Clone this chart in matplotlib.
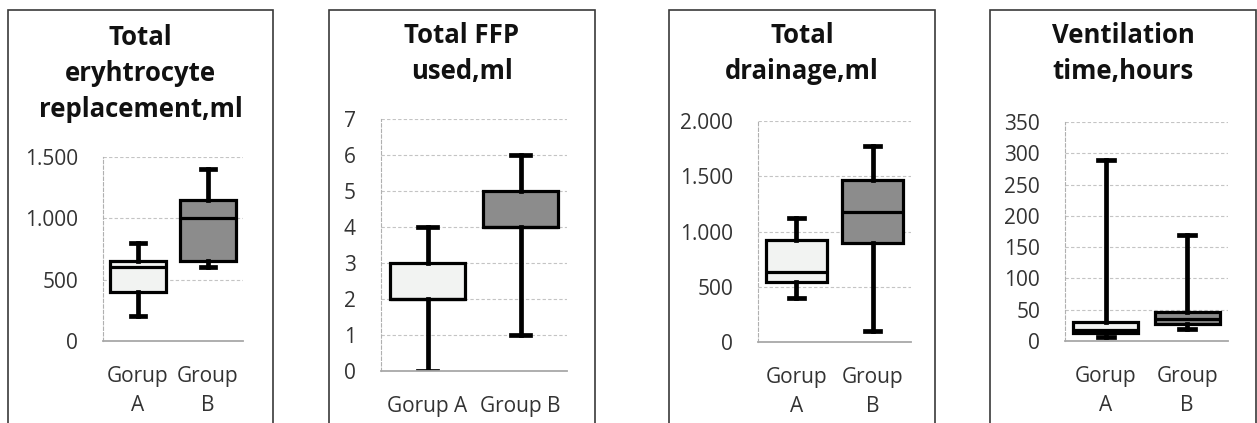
import numpy as np
import matplotlib.pyplot as plt
from matplotlib.patches import Rectangle

plt.rcParams['font.family'] = ['Open Sans', 'DejaVu Sans']

W, H = 1257, 423

# ---- data ----
groups_split = ['Gorup\nA', 'Group\nB']
groups_flat = ['Gorup A', 'Group B']

ery_low = [200, 600]
ery_q1 = [400, 650]
ery_med = [600, 1000]
ery_q3 = [650, 1150]
ery_high = [800, 1400]

ffp_low = [0, 1]
ffp_q1 = [2, 4]
ffp_med = [2, 4]
ffp_q3 = [3, 5]
ffp_high = [4, 6]

drain_low = [400, 100]
drain_q1 = [540, 900]
drain_med = [630, 1180]
drain_q3 = [920, 1470]
drain_high = [1120, 1770]

vent_low = [6, 19]
vent_q1 = [12, 27]
vent_med = [18, 35]
vent_q3 = [30, 46]
vent_high = [290, 170]

box_colors = ['#f2f3f2', '#8c8c8c']


def px_box(x0, y0, x1, y1):
    return [x0 / W, 1 - y1 / H, (x1 - x0) / W, (y1 - y0) / H]


def thousands(v, pos=None):
    return f'{int(v):,}'.replace(',', '.')


def draw_panel(fig, frame, axbox, title, title_y, low, q1, med, q3, high,
               labels, ymax, ystep, fmt_dot=False):
    fx0, fx1 = frame
    fig.add_artist(Rectangle((fx0 / W, -0.2), (fx1 - fx0) / W, 1.2 - 10 / H,
                             transform=fig.transFigure, fill=False,
                             edgecolor='#3a3a3a', linewidth=1.2))
    fig.text((fx0 + fx1) / 2 / W, 1 - title_y / H, title, ha='center', va='top',
             fontsize=18.5, fontweight='bold', linespacing=1.43, color='#111111')

    ax = fig.add_axes(px_box(*axbox))
    stats = []
    for i in range(len(low)):
        stats.append(dict(whislo=low[i], q1=q1[i], med=med[i], q3=q3[i],
                          whishi=high[i], fliers=[]))
    bp = ax.bxp(stats, positions=[0.5, 1.5], widths=0.8, patch_artist=True,
                showfliers=False, capwidths=0.2,
                boxprops=dict(linewidth=2.3, edgecolor='black'),
                medianprops=dict(color='black', linewidth=2.3),
                whiskerprops=dict(color='black', linewidth=3.4),
                capprops=dict(color='black', linewidth=3.4))
    for patch, c in zip(bp['boxes'], box_colors):
        patch.set_facecolor(c)

    ax.set_xlim(0, 2)
    ax.set_ylim(0, ymax)
    ax.set_yticks(np.arange(0, ymax + ystep / 2, ystep))
    if fmt_dot:
        ax.yaxis.set_major_formatter(thousands)
    ax.set_xticks([0.5, 1.5])
    ax.set_xticklabels(labels, linespacing=1.5)
    ax.tick_params(axis='y', length=0, pad=18, labelsize=15, labelcolor='#333333')
    ax.tick_params(axis='x', length=0, pad=18, labelsize=15, labelcolor='#333333')
    ax.yaxis.grid(True, linestyle=(0, (3, 2)), color='#c4c4c4', linewidth=0.8)
    ax.set_axisbelow(True)
    for s in ['top', 'right']:
        ax.spines[s].set_visible(False)
    ax.spines['left'].set_linestyle((0, (3, 2)))
    ax.spines['left'].set_color('#b0b0b0')
    ax.spines['left'].set_linewidth(0.8)
    ax.spines['bottom'].set_color('#a8a8a8')
    ax.spines['bottom'].set_linewidth(1.3)
    return ax


fig = plt.figure(figsize=(W / 100, H / 100), dpi=100)

draw_panel(fig, (8, 273), (103, 157, 243, 341),
           'Total\neryhtrocyte\nreplacement,ml', 24,
           ery_low, ery_q1, ery_med, ery_q3, ery_high,
           groups_split, 1500, 500, fmt_dot=True)
draw_panel(fig, (329, 595), (381, 119, 567, 371),
           'Total FFP\nused,ml', 22,
           ffp_low, ffp_q1, ffp_med, ffp_q3, ffp_high,
           groups_flat, 7, 1)
draw_panel(fig, (669, 935), (758, 121, 911, 342),
           'Total\ndrainage,ml', 22,
           drain_low, drain_q1, drain_med, drain_q3, drain_high,
           groups_split, 2000, 500, fmt_dot=True)
draw_panel(fig, (990, 1256), (1065, 122, 1228, 341),
           'Ventilation\ntime,hours', 22,
           vent_low, vent_q1, vent_med, vent_q3, vent_high,
           groups_split, 350, 50)

fig.savefig('out.png', dpi=100)
